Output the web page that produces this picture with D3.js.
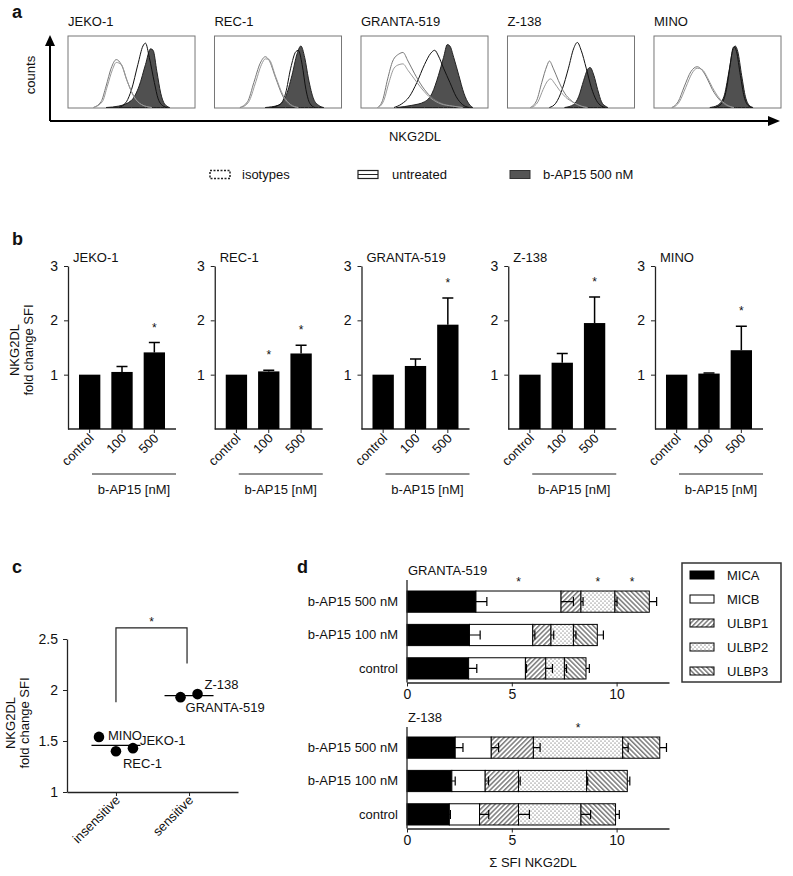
<!DOCTYPE html>
<html><head><meta charset="utf-8">
<script src="https://cdn.jsdelivr.net/npm/d3@7"></script>
<style>body{margin:0;background:#fff} svg{font-family:"Liberation Sans",Arial,sans-serif}</style>
</head><body><svg id="c" width="793" height="876"></svg>
<script>
// ---------------- DATA ----------------
const cellLines = ["JEKO-1","REC-1","GRANTA-519","Z-138","MINO"];
// panel a: histogram outlines, [channel (0-100), counts (% of box height)]
const histIso1 = [
 [[20,0],[26,8],[30,30],[34,55],[38,67],[42,60],[47,35],[52,15],[58,4],[66,0]],
 [[20,0],[26,8],[31,35],[36,62],[40,71],[43,66],[48,42],[54,15],[60,3],[66,0]],
 [[13,0],[17,10],[21,40],[25,65],[30,75],[33,77],[37,65],[42,48],[48,30],[55,15],[63,6],[72,2],[80,0]],
 [[18,0],[23,10],[27,35],[31,58],[33,65],[36,55],[40,38],[45,20],[50,10],[56,3],[62,0]],
 [[14,0],[19,8],[24,30],[29,50],[34,57],[38,52],[42,40],[46,25],[51,12],[56,4],[62,0]]
];
const histIso2 = [
 [[20,0],[27,8],[31,30],[35,53],[38,63],[42,60],[46,40],[52,15],[58,4],[66,0]],
 [[21,0],[27,8],[32,33],[37,60],[40,68],[43,67],[48,44],[54,17],[60,4],[66,0]],
 [[14,0],[18,10],[22,35],[26,55],[30,60],[33,61],[37,52],[42,40],[48,26],[55,13],[63,5],[72,2],[80,0]],
 [[19,0],[24,8],[28,25],[32,38],[34,40],[37,34],[41,24],[46,14],[52,7],[58,2],[63,0]],
 [[15,0],[20,8],[25,28],[30,48],[34,55],[38,53],[42,42],[46,28],[51,14],[57,4],[63,0]]
];
const histUntreated = [
 [[40,0],[46,8],[50,25],[55,60],[59,86],[61,90],[64,70],[68,35],[71,12],[75,2],[78,0]],
 [[45,0],[52,5],[56,20],[60,55],[64,78],[66,80],[69,60],[72,25],[75,6],[79,0]],
 [[26,0],[32,5],[38,15],[44,35],[50,60],[55,76],[58,80],[61,72],[65,55],[70,35],[75,15],[80,4],[85,0]],
 [[33,0],[38,6],[43,25],[48,55],[52,82],[55,91],[58,80],[62,55],[66,28],[70,10],[74,2],[77,0]],
 [[48,0],[53,5],[57,25],[60,60],[62,82],[63,85],[65,78],[68,45],[71,15],[74,3],[77,0]]
];
const histTreated = [
 [[30,0],[40,2],[50,10],[56,30],[61,60],[65,82],[67,80],[70,50],[73,20],[76,5],[80,0]],
 [[40,0],[50,3],[56,15],[61,45],[65,75],[68,86],[71,70],[74,40],[78,12],[82,3],[86,0]],
 [[28,0],[40,3],[50,8],[56,20],[61,45],[65,70],[68,88],[70,86],[73,70],[77,45],[81,20],[85,5],[88,0]],
 [[45,0],[52,4],[56,15],[60,38],[63,53],[65,56],[68,45],[71,25],[74,8],[77,2],[79,0]],
 [[44,0],[50,3],[55,15],[59,50],[62,80],[64,86],[66,78],[69,45],[72,15],[75,3],[78,0]]
];
const legendA = ["isotypes","untreated","b-AP15 500 nM"];

// panel b
const doses = ["control","100","500"];
const foldMean = [[1,1.05,1.41],[1,1.06,1.39],[1,1.16,1.92],[1,1.22,1.95],[1,1.02,1.45]];
const foldErr  = [[0,0.10,0.18],[0,0.02,0.15],[0,0.13,0.49],[0,0.17,0.48],[0,0.01,0.44]];
const foldSig  = [[0,0,1],[0,1,1],[0,0,1],[0,0,1],[0,0,1]];
const yTicksB = [1,2,3];

// panel c
const groups = ["insensitive","sensitive"];
const dotLines = ["MINO","REC-1","JEKO-1","GRANTA-519","Z-138"];
const dotGroup = ["insensitive","insensitive","insensitive","sensitive","sensitive"];
const dotValue = [1.54,1.40,1.43,1.93,1.96];
const yTicksC = [1,1.5,2,2.5];

// panel d
const ligands = ["MICA","MICB","ULBP1","ULBP2","ULBP3"];
const treatments = ["b-AP15 500 nM","b-AP15 100 nM","control"];
const sfiGranta    = [[3.29,4.06,0.95,1.62,1.64],[2.98,3.02,0.87,1.07,1.14],[2.94,2.71,0.97,0.89,1.03]];
const sfiGrantaErr = [[0.52,0.59,0.10,0.10,0.35],[0.51,0.10,0.13,0.12,0.29],[0.39,0.05,0.32,0.10,0.16]];
const sigGranta    = [["MICB","ULBP2","ULBP3"],[],[]];
const sfiZ138      = [[2.30,1.72,2.01,4.26,1.77],[2.14,1.59,1.59,3.25,1.94],[2.02,1.44,1.86,2.98,1.65]];
const sfiZ138Err   = [[0.37,0.35,0.32,0.26,0.32],[0.16,0.16,0.08,0.05,0.12],[0.05,0.44,0.52,0.46,0.18]];
const sigZ138      = [["ULBP2"],[],[]];
const xTicksD = [0,5,10];

// ---------------- DRAW ----------------
const svg = d3.select("#c");
const defs = svg.append("defs");
function hatch(id, angle){
  const p = defs.append("pattern").attr("id",id).attr("patternUnits","userSpaceOnUse")
    .attr("width",3.4).attr("height",3.4).attr("patternTransform",`rotate(${angle})`);
  p.append("rect").attr("width",3.4).attr("height",3.4).attr("fill","#fff");
  p.append("line").attr("x1",0.8).attr("x2",0.8).attr("y1",0).attr("y2",3.4).attr("stroke","#222").attr("stroke-width",0.9);
}
hatch("pU1",45); hatch("pU3",-45);
const pd = defs.append("pattern").attr("id","pU2").attr("patternUnits","userSpaceOnUse").attr("width",4).attr("height",4);
pd.append("rect").attr("width",4).attr("height",4).attr("fill","#fff");
pd.append("circle").attr("cx",1).attr("cy",1).attr("r",0.55).attr("fill","#333");
pd.append("circle").attr("cx",3).attr("cy",3).attr("r",0.55).attr("fill","#333");
const ligFill = {MICA:"#000",MICB:"#fff",ULBP1:"url(#pU1)",ULBP2:"url(#pU2)",ULBP3:"url(#pU3)"};

function text(g,x,y,s,o={}){
  const t=g.append("text").attr("x",x).attr("y",y).text(s)
   .attr("font-size",o.size||13).attr("fill","#111");
  if(o.anchor) t.attr("text-anchor",o.anchor);
  if(o.weight) t.attr("font-weight",o.weight);
  if(o.rot!==undefined) t.attr("transform",`rotate(${o.rot},${x},${y})`);
  return t;
}
function letter(x,y,s){ text(svg,x,y,s,{size:18,weight:"bold"}); }
function styleAxis(ax,size){
  ax.attr("font-family",null).attr("font-size",null);
  ax.select(".domain").attr("stroke","#222").attr("stroke-width",1.3);
  ax.selectAll(".tick line").attr("stroke","#222");
  ax.selectAll("text").attr("font-size",size).attr("fill","#111");
}

// ---- panel a ----
letter(12,18,"a");
const boxBand = d3.scaleBand().domain(cellLines).range([68,781]).paddingInner(0.133);
const boxTop=36, boxBot=108;
cellLines.forEach((cl,i)=>{
  const bx = boxBand(cl), bw = boxBand.bandwidth();
  const g = svg.append("g");
  const x = d3.scaleLinear().domain([0,100]).range([bx,bx+bw]);
  const y = d3.scaleLinear().domain([0,100]).range([boxBot-0.5,boxTop]);
  text(svg,bx,26,cl);
  g.append("rect").attr("x",bx).attr("y",boxTop).attr("width",bw).attr("height",boxBot-boxTop)
    .attr("fill","#fff").attr("stroke","#777").attr("stroke-width",1);
  const area = d3.area().x(d=>x(d[0])).y0(y(0)).y1(d=>y(d[1])).curve(d3.curveMonotoneX);
  const line = d3.line().x(d=>x(d[0])).y(d=>y(d[1])).curve(d3.curveMonotoneX);
  g.append("path").attr("d",area(histTreated[i])).attr("fill","#505050").attr("stroke","#222").attr("stroke-width",1);
  g.append("path").attr("d",line(histUntreated[i])).attr("fill","none").attr("stroke","#111").attr("stroke-width",1);
  g.append("path").attr("d",line(histIso1[i])).attr("fill","none").attr("stroke","#777").attr("stroke-width",1);
  g.append("path").attr("d",line(histIso2[i])).attr("fill","none").attr("stroke","#999").attr("stroke-width",1);
});
// arrows
svg.append("path").attr("d","M50,121 V44 M50,121 H770").attr("stroke","#000").attr("stroke-width",2).attr("fill","none");
svg.append("path").attr("d","M45,46 L50,35 L55,46 Z").attr("fill","#000");
svg.append("path").attr("d","M768,116 L780,121 L768,126 Z").attr("fill","#000");
text(svg,35,75,"counts",{anchor:"middle",rot:-90});
text(svg,415,141,"NKG2DL",{anchor:"middle"});
// legend a
const legX=[210,358,510], legTX=[242,392,543];
legendA.forEach((s,i)=>{
  const r = svg.append("rect").attr("x",legX[i]).attr("y",170.5).attr("width",20).attr("height",8);
  if(i===0) r.attr("fill","#fff").attr("stroke","#222").attr("stroke-width",1.5).attr("stroke-dasharray","2,1.5");
  if(i===1){ r.attr("fill","#fff").attr("stroke","#222").attr("stroke-width",1.2);
    svg.append("line").attr("x1",legX[i]).attr("x2",legX[i]+20).attr("y1",174.5).attr("y2",174.5).attr("stroke","#222").attr("stroke-width",1);}
  if(i===2) r.attr("fill","#555").attr("stroke","#333").attr("stroke-width",1);
  text(svg,legTX[i],179,s);
});

// ---- panel b ----
letter(12,245,"b");
const yB = d3.scaleLinear().domain([0,3]).range([429,266]);
const panelB = d3.scaleBand().domain(cellLines).range([68,763]).paddingInner(0.264);
cellLines.forEach((cl,i)=>{
  const x0 = panelB(cl), w = panelB.bandwidth();
  const g = svg.append("g");
  const xb = d3.scaleBand().domain(doses).range([x0,x0+w]).padding(0.34);
  text(g,x0+5,262,cl);
  const ax = g.append("g").attr("transform",`translate(${x0},0)`)
    .call(d3.axisLeft(yB).tickValues(yTicksB).tickFormat(d3.format("d")).tickSize(4).tickSizeOuter(0).tickPadding(6));
  styleAxis(ax,14);
  g.append("line").attr("x1",x0).attr("x2",x0+w).attr("y1",yB(0)).attr("y2",yB(0)).attr("stroke","#222").attr("stroke-width",1.3);
  doses.forEach((d,j)=>{
    const cx = xb(d)+xb.bandwidth()/2;
    g.append("line").attr("x1",cx).attr("x2",cx).attr("y1",yB(0)).attr("y2",yB(0)+4).attr("stroke","#222");
    g.append("rect").attr("x",xb(d)).attr("y",yB(foldMean[i][j])).attr("width",xb.bandwidth())
      .attr("height",yB(0)-yB(foldMean[i][j])).attr("fill","#000");
    if(foldErr[i][j]>0){
      const yt = yB(foldMean[i][j]+foldErr[i][j]);
      g.append("path").attr("d",`M${cx},${yB(foldMean[i][j])} V${yt} M${cx-5.5},${yt} H${cx+5.5}`)
        .attr("stroke","#000").attr("stroke-width",1.5).attr("fill","none");
    }
    if(foldSig[i][j]){
      text(g,cx,yB(foldMean[i][j]+foldErr[i][j])-11,"*",{anchor:"middle",size:12});
    }
    text(g,cx+5,439,d,{anchor:"end",rot:-45});
  });
  g.append("line").attr("x1",x0+24).attr("x2",x0+w).attr("y1",474).attr("y2",474).attr("stroke","#222").attr("stroke-width",1.2);
  text(g,x0+66,494,"b-AP15 [nM]",{anchor:"middle"});
});
text(svg,19,350,"NKG2DL",{anchor:"middle",rot:-90});
text(svg,33,350,"fold change SFI",{anchor:"middle",rot:-90});

// ---- panel c ----
letter(12,573,"c");
const yC = d3.scaleLinear().domain([1,2.5]).range([792,639]);
const xC = d3.scalePoint().domain(groups).range([67,238]).padding(0.67);
const gc = svg.append("g");
const axC = gc.append("g").attr("transform","translate(67,0)")
  .call(d3.axisLeft(yC).tickValues(yTicksC).tickFormat(d3.format("~g")).tickSize(4).tickSizeOuter(0).tickPadding(5));
styleAxis(axC,14);
const axCx = gc.append("g").attr("transform","translate(0,792)")
  .call(d3.axisBottom(xC).tickSize(4).tickSizeOuter(0).tickFormat(""));
styleAxis(axCx,14);
groups.forEach(gname=>{
  text(gc,xC(gname)+5,801,gname,{anchor:"end",rot:-45});
});
// dots
const dotPos = dotLines.map((n,i)=>{
  const members = dotLines.filter((m,k)=>dotGroup[k]===dotGroup[i]);
  const idx = members.indexOf(n);
  const off = (idx-(members.length-1)/2)*17;
  return [xC(dotGroup[i])+off, yC(dotValue[i])];
});
groups.forEach(gname=>{
  const m = d3.mean(dotValue.filter((v,k)=>dotGroup[k]===gname));
  gc.append("line").attr("x1",xC(gname)-24.5).attr("x2",xC(gname)+24.5).attr("y1",yC(m)).attr("y2",yC(m))
    .attr("stroke","#000").attr("stroke-width",1.3);
});
dotPos.forEach(p=>gc.append("circle").attr("cx",p[0]).attr("cy",p[1]).attr("r",5.3).attr("fill","#000"));
const dotLabelOff = {"MINO":[9,3],"REC-1":[7,17],"JEKO-1":[7,-3],"GRANTA-519":[5,15],"Z-138":[7,-5]};
dotLines.forEach((n,i)=>{
  const o = dotLabelOff[n];
  text(gc,dotPos[i][0]+o[0],dotPos[i][1]+o[1],n);
});
// significance bracket
const bx1 = xC("insensitive"), bx2 = xC("sensitive")-2;
gc.append("path").attr("d",`M${bx1},${yC(1.88)} V${yC(2.61)} H${bx2} V${yC(2.26)}`)
  .attr("fill","none").attr("stroke","#222").attr("stroke-width",1.2);
text(gc,(bx1+bx2)/2,626,"*",{anchor:"middle",size:12});
text(svg,15,723,"NKG2DL",{anchor:"middle",rot:-90});
text(svg,29,723,"fold change SFI",{anchor:"middle",rot:-90});

// ---- panel d ----
letter(297,573,"d");
const xD = d3.scaleLinear().domain([0,12.5]).range([407,669]);
function stacked(title, data, err, sig, bandRange, axisTop){
  const g = svg.append("g");
  const yb = d3.scaleBand().domain(treatments).range(bandRange).paddingInner(0.364).paddingOuter(0.18);
  const axisY = yb(treatments[2]) + yb.bandwidth() + 3.5;
  text(g,408,axisTop-5,title);
  const rows = treatments.map((t,i)=>{ const o={treatment:t}; ligands.forEach((l,k)=>o[l]=data[i][k]); return o; });
  const series = d3.stack().keys(ligands)(rows);
  series.forEach((s,k)=>{
    s.forEach((d,i)=>{
      g.append("rect").attr("x",xD(d[0])).attr("y",yb(treatments[i])).attr("width",xD(d[1])-xD(d[0]))
        .attr("height",yb.bandwidth()).attr("fill",ligFill[ligands[k]]).attr("stroke","#000").attr("stroke-width",1);
    });
  });
  series.forEach((s,k)=>{
    s.forEach((d,i)=>{
      const cy = yb(treatments[i])+yb.bandwidth()/2, e = err[i][k];
      g.append("path").attr("d",`M${xD(d[1])},${cy} H${xD(d[1]+e)} M${xD(d[1]+e)},${cy-4.5} V${cy+4.5}`)
        .attr("stroke","#000").attr("stroke-width",1.2).attr("fill","none");
      if(sig[i].includes(ligands[k])){
        text(g,xD((d[0]+d[1])/2),yb(treatments[i])-5,"*",{anchor:"middle",size:12});
      }
    });
  });
  const ay = g.append("g").attr("transform","translate(407,0)").call(d3.axisLeft(yb).tickSize(0).tickPadding(9));
  ay.select(".domain").remove();
  ay.attr("font-family",null).attr("font-size",null);
  ay.selectAll("text").attr("font-size",13).attr("fill","#111");
  g.append("line").attr("x1",407).attr("x2",407).attr("y1",axisTop).attr("y2",axisY).attr("stroke","#222").attr("stroke-width",1.3);
  const ax = g.append("g").attr("transform",`translate(0,${axisY})`)
    .call(d3.axisBottom(xD).tickValues(xTicksD).tickSize(4).tickSizeOuter(0).tickPadding(3));
  styleAxis(ax,14);
}
stacked("GRANTA-519", sfiGranta, sfiGrantaErr, sigGranta, [585,685], 580);
stacked("Z-138", sfiZ138, sfiZ138Err, sigZ138, [731,831], 727);
text(svg,533,867,"Σ SFI NKG2DL",{anchor:"middle"});
// legend d
svg.append("rect").attr("x",682).attr("y",563).attr("width",99).attr("height",119).attr("fill","none").attr("stroke","#333").attr("stroke-width",1.5);
ligands.forEach((l,k)=>{
  const yy = 575 + k*24;
  svg.append("rect").attr("x",690).attr("y",yy-4).attr("width",24).attr("height",8)
    .attr("fill",ligFill[l]).attr("stroke","#000").attr("stroke-width",1);
  text(svg,727,yy+5,l);
});
</script></body></html>
